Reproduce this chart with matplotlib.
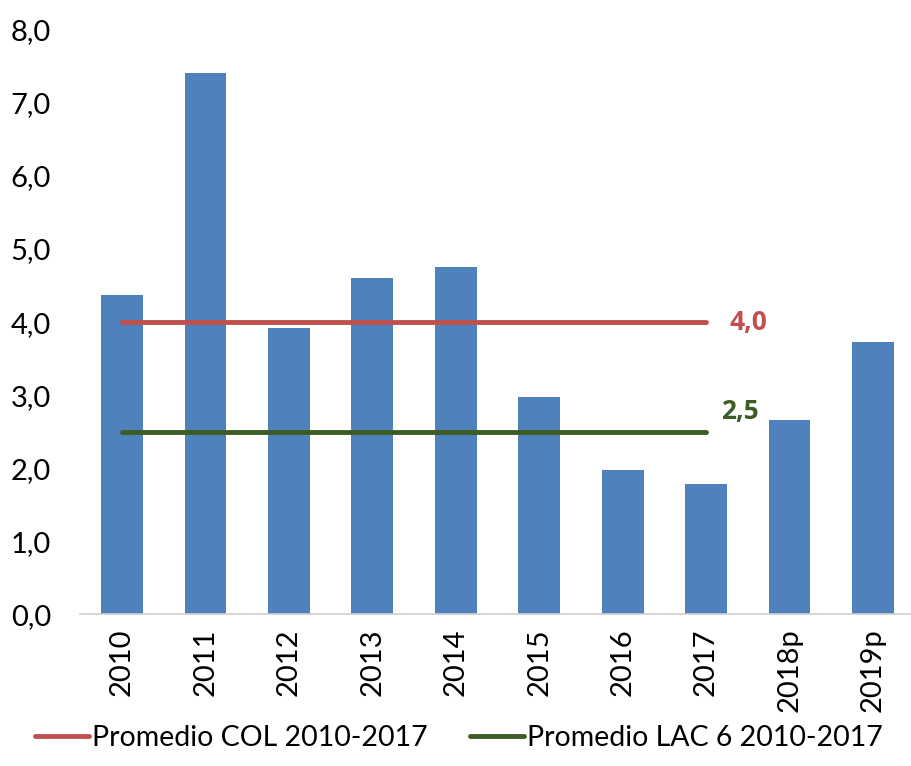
import numpy as np
import matplotlib.pyplot as plt

plt.rcParams['font.family'] = ['Lato', 'DejaVu Sans']

# Datos
years = ['2010', '2011', '2012', '2013', '2014', '2015', '2016', '2017', '2018p', '2019p']
growth = [4.37, 7.41, 3.92, 4.60, 4.75, 2.97, 1.97, 1.79, 2.66, 3.73]
avg_col = 4.0
avg_lac = 2.5
avg_years = 8  # promedio 2010-2017

fig = plt.figure(figsize=(9.12, 7.66), dpi=100)
ax = fig.add_axes([0.088, 0.198, 0.915, 0.763])

x = np.arange(len(years))
ax.bar(x, growth, width=0.5, color='#4F81BD', zorder=2)

# lineas de promedio
ax.plot([x[0], x[avg_years - 1]], [avg_col, avg_col], color='#C0504D', lw=3.5,
        solid_capstyle='round', zorder=3, label='Promedio COL 2010-2017')
ax.plot([x[0], x[avg_years - 1]], [avg_lac, avg_lac], color='#3D5C24', lw=3.5,
        solid_capstyle='round', zorder=3, label='Promedio LAC 6 2010-2017')

ax.text(x[avg_years - 1] + 0.28, avg_col, f'{avg_col:.1f}'.replace('.', ','),
        color='#C0504D', fontsize=19, fontweight='bold', family='Open Sans',
        va='center', ha='left')
ax.text(x[avg_years - 1] + 0.18, avg_lac + 0.27, f'{avg_lac:.1f}'.replace('.', ','),
        color='#3D5C24', fontsize=19, fontweight='bold', family='Open Sans',
        va='center', ha='left')

ax.set_xlim(-0.5, 9.5)
ax.set_ylim(0, 8)
ax.set_yticks(np.arange(0, 9, 1))
ax.set_yticklabels([f'{v:.1f}'.replace('.', ',') for v in np.arange(0, 9, 1)], fontsize=21)
ax.set_xticks(x)
ax.set_xticklabels(years, rotation=90, fontsize=21)
ax.tick_params(axis='both', length=0, pad=10)
ax.tick_params(axis='y', pad=21)

for s in ['top', 'right', 'left']:
    ax.spines[s].set_visible(False)
ax.spines['bottom'].set_color('#D0D0D0')
ax.spines['bottom'].set_linewidth(1.2)

fig.legend(loc='lower left', bbox_to_anchor=(0.01, -0.014), ncol=2, frameon=False,
           fontsize=20.5, handlelength=1.9, handletextpad=0.1, columnspacing=1.5)

fig.savefig('out.png', dpi=100)
